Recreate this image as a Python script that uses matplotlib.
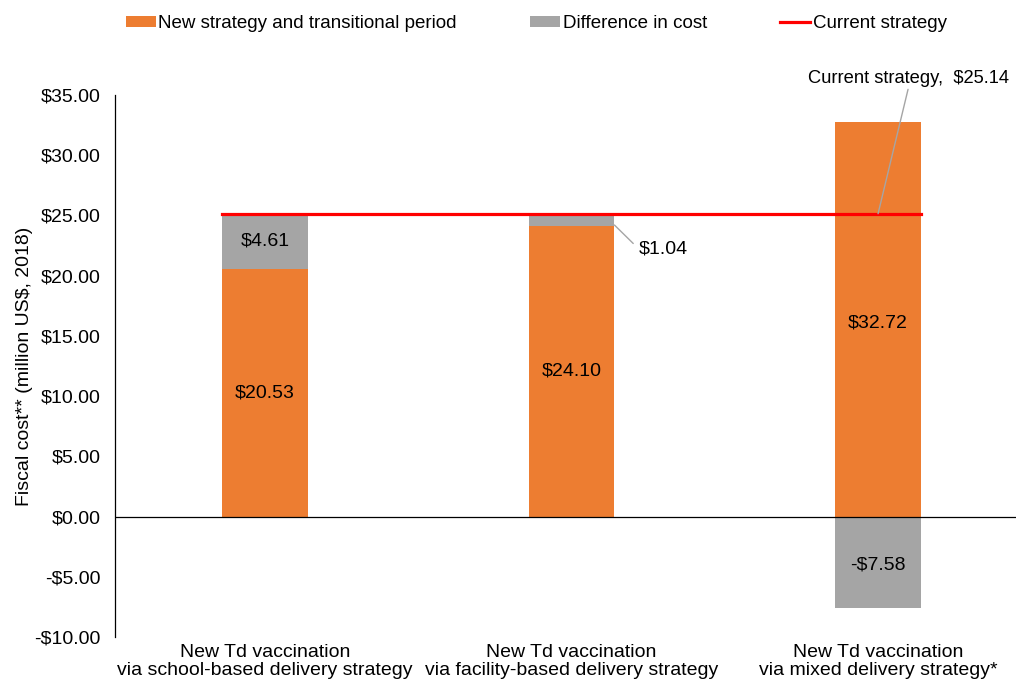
import matplotlib.pyplot as plt
from matplotlib.ticker import FuncFormatter
import numpy as np

plt.rcParams['font.family'] = ['Liberation Sans', 'DejaVu Sans']

categories = ['New Td vaccination\nvia school-based delivery strategy',
              'New Td vaccination\nvia facility-based delivery strategy',
              'New Td vaccination\nvia mixed delivery strategy*']
new_strategy = [20.53, 24.10, 32.72]
difference = [4.61, 1.04, -7.58]
current = 25.14

orange = '#ED7D31'
gray = '#A5A5A5'
fs = 14

fig = plt.figure(figsize=(10.16, 6.81), dpi=100)
ax = fig.add_axes([0.113, 0.0646, 0.887, 0.796])

x = np.arange(len(categories))
w = 0.28
b1 = ax.bar(x, new_strategy, w, color=orange, label='New strategy and transitional period')
# difference bars: positive ones sit on top of new strategy, negative ones hang from zero
bottoms = [n if d > 0 else 0 for n, d in zip(new_strategy, difference)]
b2 = ax.bar(x, difference, w, bottom=bottoms, color=gray, label='Difference in cost')
l1, = ax.plot([x[0] - w / 2, x[-1] + w / 2], [current, current], color='#FF0000', lw=2.3,
              label='Current strategy', zorder=3)

ax.axhline(0, color='black', lw=0.9)

# labels
ax.text(x[0], new_strategy[0] / 2, f'${new_strategy[0]:.2f}', ha='center', va='center', fontsize=fs)
ax.text(x[1], new_strategy[1] / 2, f'${new_strategy[1]:.2f}', ha='center', va='center', fontsize=fs)
ax.text(x[2], new_strategy[2] / 2 - 0.3, f'${new_strategy[2]:.2f}', ha='center', va='center', fontsize=fs)
ax.text(x[0], new_strategy[0] + difference[0] / 2, f'${difference[0]:.2f}', ha='center', va='center', fontsize=fs)
ax.text(x[2], difference[2] / 2 - 0.2, f'-${-difference[2]:.2f}', ha='center', va='center', fontsize=fs)
ax.annotate(f'${difference[1]:.2f}', xy=(x[1] + w / 2, new_strategy[1] + 0.1),
            xytext=(x[1] + 0.22, 22.2), fontsize=fs, va='center', ha='left',
            arrowprops=dict(arrowstyle='-', color='#A5A5A5', lw=1, shrinkA=3, shrinkB=0,
                            relpos=(0.0, 0.5)))
ax.annotate(f'Current strategy,  ${current:.2f}', xy=(x[2], current),
            xytext=(2.1, 36.4), fontsize=13.2, ha='center', va='center',
            annotation_clip=False,
            arrowprops=dict(arrowstyle='-', color='#A5A5A5', lw=1, shrinkA=0, shrinkB=0,
                            relpos=(0.5, 0.0)))

ax.set_xlim(-0.49, 2.45)
ax.set_ylim(-10, 35)
ax.set_yticks(np.arange(-10, 36, 5))
ax.yaxis.set_major_formatter(FuncFormatter(lambda v, p: f'${v:.2f}' if v >= 0 else f'-${-v:.2f}'))
ax.tick_params(axis='y', length=0, labelsize=fs, pad=10)
ax.set_xticks(x)
ax.set_xticklabels(categories, fontsize=fs, linespacing=1.1)
ax.tick_params(axis='x', length=0, pad=5)
for s in ['top', 'right', 'bottom']:
    ax.spines[s].set_visible(False)
ax.spines['left'].set_linewidth(0.9)
ax.set_ylabel('Fiscal cost** (million US$, 2018)', fontsize=fs, labelpad=1)

fig.legend([b1, b2, l1], [b1.get_label(), b2.get_label(), l1.get_label()],
           loc='center left', bbox_to_anchor=(0.107, 0.965), ncol=3, frameon=False,
           fontsize=13.5, handlelength=1.6, handleheight=0.55, handletextpad=0.15,
           columnspacing=3.9)

fig.savefig('out.png', dpi=100)
